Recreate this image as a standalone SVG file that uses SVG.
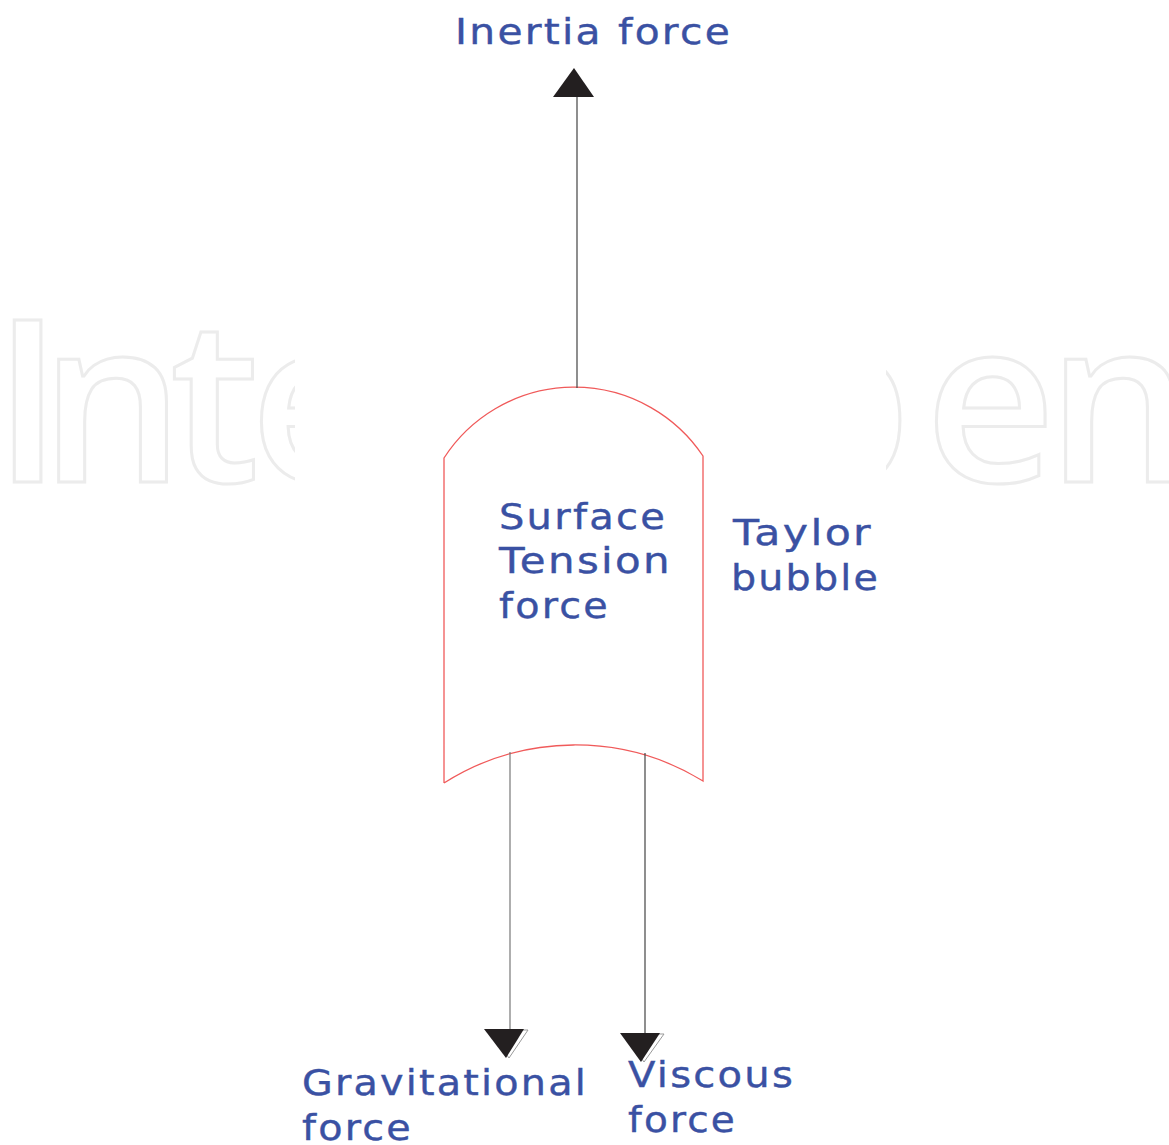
<svg xmlns="http://www.w3.org/2000/svg" width="1169" height="1145" viewBox="0 0 1169 1145">
<style>
.lbl{font-family:"DejaVu Sans","Verdana",sans-serif;font-size:36px;fill:#3a51a3;stroke:#3a51a3;stroke-width:0.4;letter-spacing:2px}
.wm{font-family:"Open Sans",sans-serif;font-weight:600;font-size:227px;fill:none;stroke:#ececec;stroke-width:3}
.ln{stroke:#444;stroke-width:1.2;fill:none}
.bub{stroke:#f05a5a;stroke-width:1.3;fill:none}
.head{fill:#231f20}
.shadow{fill:none;stroke:#999;stroke-width:1}
</style>
<defs>
<clipPath id="cl"><rect x="0" y="280" width="295" height="260"/></clipPath>
<clipPath id="cr"><rect x="886" y="280" width="283" height="260"/></clipPath>
</defs>
<rect width="1169" height="1145" fill="#fff"/>
<g id="watermark">
<text class="wm" x="-7 40 170 250" y="482" clip-path="url(#cl)">Inte</text>
<text class="wm" x="770 925 1047" y="482" clip-path="url(#cr)">pen</text>
</g>
<g id="bubble">
<path class="bub" d="M444,783 L444,458 A155,155 0 0 1 703,456 L703,781 A245,245 0 0 0 444,783"/>
<text class="lbl" x="499" y="529" textLength="168" lengthAdjust="spacingAndGlyphs">Surface</text>
<text class="lbl" x="499" y="573" textLength="173" lengthAdjust="spacingAndGlyphs">Tension</text>
<text class="lbl" x="499" y="618" textLength="111" lengthAdjust="spacingAndGlyphs">force</text>
</g>
<g id="taylor">
<text class="lbl" x="733" y="545" textLength="140" lengthAdjust="spacingAndGlyphs">Taylor</text>
<text class="lbl" x="731" y="590" textLength="149" lengthAdjust="spacingAndGlyphs">bubble</text>
</g>
<g id="connectors">
<line class="ln" x1="577" y1="388" x2="577" y2="96"/>
<polygon class="head" points="574,68 594,97 553,97"/>
<line class="ln" x1="510" y1="752" x2="510" y2="1030" style="stroke:#777"/>
<polygon class="shadow" points="488,1030 528,1030 509,1058"/>
<polygon class="head" points="484,1029 524,1029 506,1058"/>
<line class="ln" x1="645" y1="753" x2="645" y2="1034"/>
<polygon class="shadow" points="624,1034 664,1034 644,1062"/>
<polygon class="head" points="620,1033 660,1033 641,1062"/>
</g>
<g id="inertia">
<text class="lbl" x="455" y="44" textLength="277" lengthAdjust="spacingAndGlyphs">Inertia force</text>
</g>
<g id="gravitational">
<text class="lbl" x="302" y="1095" textLength="286" lengthAdjust="spacingAndGlyphs">Gravitational</text>
<text class="lbl" x="302" y="1140" textLength="111" lengthAdjust="spacingAndGlyphs">force</text>
</g>
<g id="viscous">
<text class="lbl" x="628" y="1087" textLength="167" lengthAdjust="spacingAndGlyphs">Viscous</text>
<text class="lbl" x="628" y="1132" textLength="109" lengthAdjust="spacingAndGlyphs">force</text>
</g>
</svg>
